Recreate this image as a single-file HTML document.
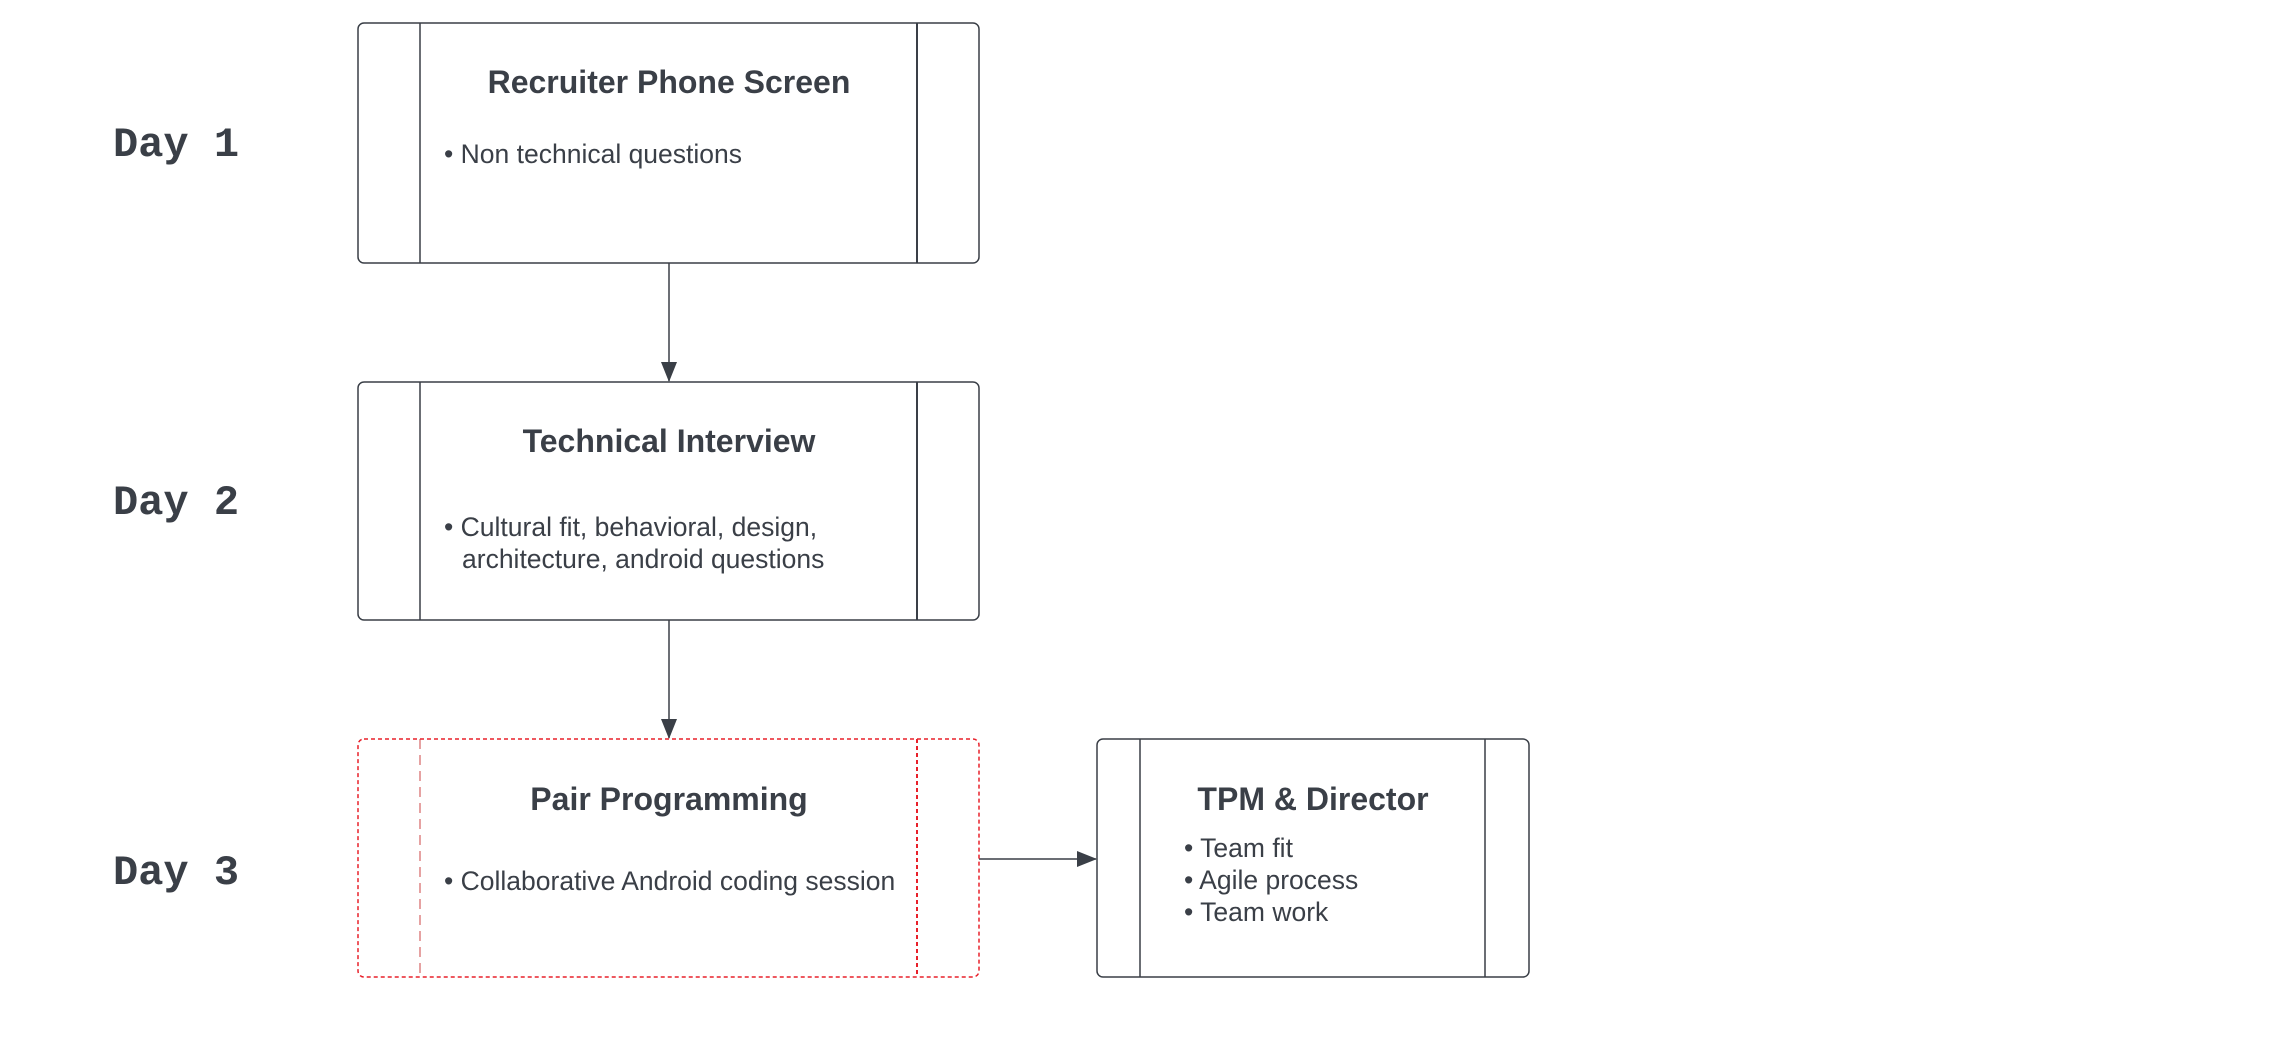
<!DOCTYPE html>
<html><head><meta charset="utf-8"><style>
html,body{margin:0;padding:0;background:#fff;}
svg text{font-family:"Liberation Sans",sans-serif;fill:#3a3f47;}
.t{font-weight:bold;font-size:32px;text-anchor:middle;}
.b{font-size:26.5px;}
.d{font-family:"Liberation Mono",monospace;font-weight:bold;font-size:42px;}
</style></head><body>
<svg width="2294" height="1032" xmlns="http://www.w3.org/2000/svg">
<defs>
<marker id="h" markerWidth="20" markerHeight="16" refX="19" refY="8" orient="auto" markerUnits="userSpaceOnUse"><path d="M0,0 L20,8 L0,16z" fill="#3a3f47"/></marker></defs>
<text class="d" x="113" y="156">Day 1</text>
<text class="d" x="113" y="514">Day 2</text>
<text class="d" x="113" y="884">Day 3</text>
<g fill="none" stroke="#3a3f47" stroke-width="1.5">
<rect x="358" y="23" width="621" height="240" rx="6"/>
<line x1="420" y1="23" x2="420" y2="263"/><line x1="917" y1="23" x2="917" y2="263" stroke-width="2"/>
<rect x="358" y="382" width="621" height="238" rx="6"/>
<line x1="420" y1="382" x2="420" y2="620"/><line x1="917" y1="382" x2="917" y2="620" stroke-width="2"/>
<rect x="1097" y="739" width="432" height="238" rx="6"/>
<line x1="1140" y1="739" x2="1140" y2="977"/><line x1="1485" y1="739" x2="1485" y2="977"/>
<line x1="669" y1="263" x2="669" y2="381" marker-end="url(#h)"/>
<line x1="669" y1="620" x2="669" y2="738" marker-end="url(#h)"/>
<line x1="979" y1="859" x2="1096" y2="859" marker-end="url(#h)"/>
</g>
<g fill="none" stroke="#e8202a" stroke-width="1.5" stroke-dasharray="4,3">
<rect x="358" y="739" width="621" height="238" rx="6"/>
<line x1="420" y1="739" x2="420" y2="977" stroke="#c44" stroke-width="1" stroke-dasharray="10,6"/>
<line x1="917" y1="739" x2="917" y2="977" stroke-width="2"/>
</g>
<text class="t" x="669" y="93">Recruiter Phone Screen</text>
<text class="b" x="444" y="163">• Non technical questions</text>
<text class="t" x="669" y="452">Technical Interview</text>
<text class="b" x="444" y="536">• Cultural fit, behavioral, design,</text>
<text class="b" x="462" y="568">architecture, android questions</text>
<text class="t" x="669" y="810">Pair Programming</text>
<text class="b" x="444" y="890">• Collaborative Android coding session</text>
<text class="t" x="1313" y="810">TPM &amp; Director</text>
<text class="b" x="1184" y="857">• Team fit</text>
<text class="b" x="1184" y="889">• Agile process</text>
<text class="b" x="1184" y="921">• Team work</text>
</svg>
</body></html>
